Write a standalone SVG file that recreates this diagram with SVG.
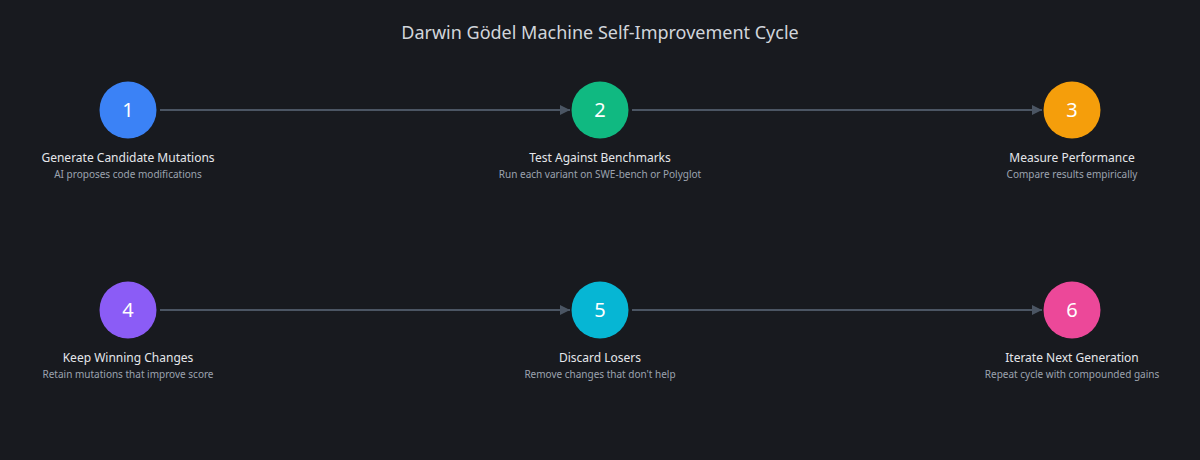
<svg xmlns="http://www.w3.org/2000/svg" width="1200" height="460" viewBox="0 0 1200 460">
<style>
.t{font-family:"Noto Sans","DejaVu Sans",sans-serif;text-anchor:middle}
.title{font-size:18px;fill:#d1d5db}
.num{font-size:20px;fill:#ffffff}
.lab{font-size:12px;fill:#e5e7eb}
.sub{font-size:10px;fill:#9ca3af}
.c{stroke:#4b5563;stroke-width:2;fill:none;marker-end:url(#a)}
</style>
<defs><marker id="a" viewBox="0 0 10 10" refX="10" refY="5" markerWidth="5" markerHeight="5" orient="auto" markerUnits="strokeWidth"><path d="M0,0L10,5L0,10z" fill="#4b5563"/></marker></defs>
<rect width="1200" height="460" fill="#181a1f"/>
<text class="t title" x="600" y="39">Darwin Gödel Machine Self-Improvement Cycle</text>
<g id="connectors">
<line class="c" x1="160" y1="110" x2="570" y2="110"/>
<line class="c" x1="632" y1="110" x2="1042" y2="110"/>
<line class="c" x1="160" y1="310" x2="570" y2="310"/>
<line class="c" x1="632" y1="310" x2="1042" y2="310"/>
</g>
<g id="n1"><circle cx="128" cy="110" r="28.5" fill="#3b82f6"/><text class="t num" x="128" y="117">1</text><text class="t lab" x="128" y="162">Generate Candidate Mutations</text><text class="t sub" x="128" y="178">AI proposes code modifications</text></g>
<g id="n2"><circle cx="600" cy="110" r="28.5" fill="#10b981"/><text class="t num" x="600" y="117">2</text><text class="t lab" x="600" y="162">Test Against Benchmarks</text><text class="t sub" x="600" y="178">Run each variant on SWE-bench or Polyglot</text></g>
<g id="n3"><circle cx="1072" cy="110" r="28.5" fill="#f59e0b"/><text class="t num" x="1072" y="117">3</text><text class="t lab" x="1072" y="162">Measure Performance</text><text class="t sub" x="1072" y="178">Compare results empirically</text></g>
<g id="n4"><circle cx="128" cy="310" r="28.5" fill="#8b5cf6"/><text class="t num" x="128" y="317">4</text><text class="t lab" x="128" y="362">Keep Winning Changes</text><text class="t sub" x="128" y="378">Retain mutations that improve score</text></g>
<g id="n5"><circle cx="600" cy="310" r="28.5" fill="#06b6d4"/><text class="t num" x="600" y="317">5</text><text class="t lab" x="600" y="362">Discard Losers</text><text class="t sub" x="600" y="378">Remove changes that don't help</text></g>
<g id="n6"><circle cx="1072" cy="310" r="28.5" fill="#ec4899"/><text class="t num" x="1072" y="317">6</text><text class="t lab" x="1072" y="362">Iterate Next Generation</text><text class="t sub" x="1072" y="378">Repeat cycle with compounded gains</text></g>
</svg>
